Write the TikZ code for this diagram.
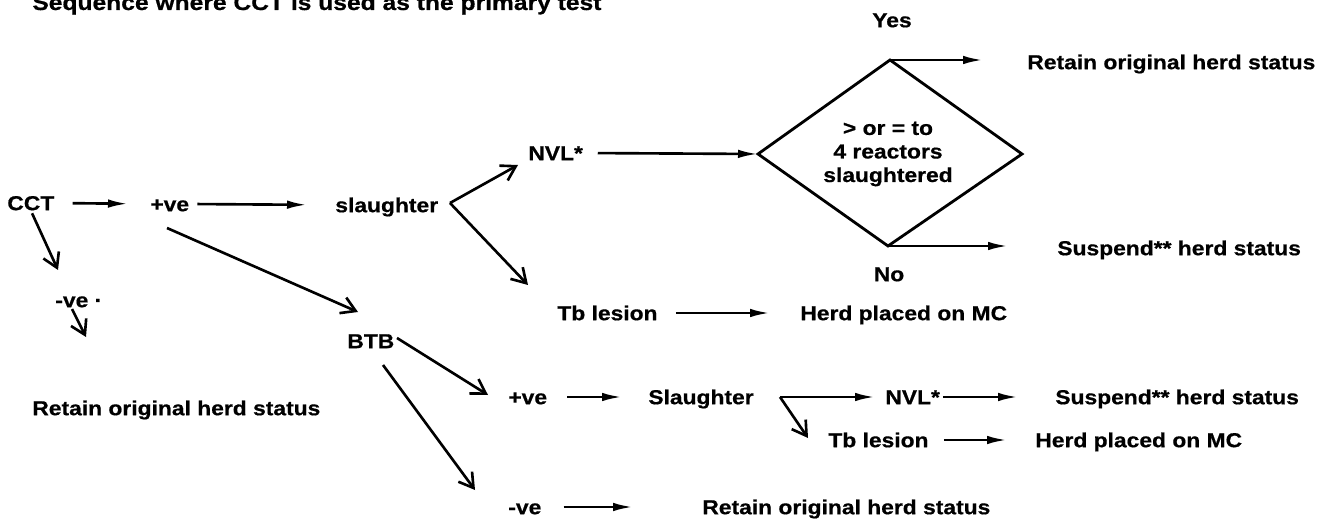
\documentclass[tikz,border=0pt]{standalone}
\usepackage{fontspec}
\newfontfamily\lblfont{Liberation Sans}[FakeStretch=1.13,FakeBold=0.6]
\usetikzlibrary{arrows.meta}
\begin{document}
\begin{tikzpicture}[x=0.02cm,y=-0.02cm,
  lbl/.style={anchor=west,inner sep=0pt,text height=8.2pt,text depth=0pt,
    font=\lblfont\bfseries\fontsize{11.5}{13.8}\selectfont},
  ctr/.style={lbl,anchor=center},
  harr/.style={line width=1.5pt,-{Latex[length=0.4cm,width=0.17cm]}},
  darr/.style={line width=1.5pt,-{Straight Barb[length=0.28cm,width=0.34cm,line width=1.5pt]}},
  dia/.style={line width=1.6pt,line join=miter}]
\useasboundingbox (0,0) rectangle (1329,520);
\clip (0,0) rectangle (1329,520);

% title
\node[anchor=base west,inner sep=0pt,font=\lblfont\bfseries\fontsize{12.4}{14}\selectfont] (title) at (32,10) {Sequence where CCT is used as the primary test};

% labels
\node[lbl] (cct) at (7,203) {CCT};
\node[lbl] (pve1) at (150,204) {+ve};
\node[lbl] (sl1) at (335,205) {slaughter};
\node[lbl] (nvl1) at (528,153) {NVL*};
\node[lbl] (tb1) at (557,313) {Tb lesion};
\node[lbl] (herd1) at (800,313) {Herd placed on MC};
\node[lbl] (nve1) at (55,300) {-ve ·};
\node[lbl] (retL) at (32,408) {Retain original herd status};
\node[lbl] (btb) at (347,341) {BTB};
\node[lbl] (pve2) at (508,397) {+ve};
\node[lbl] (sl2) at (648,397) {Slaughter};
\node[lbl] (nvl2) at (885,397) {NVL*};
\node[lbl] (susp2) at (1055,397) {Suspend** herd status};
\node[lbl] (tb2) at (828,440) {Tb lesion};
\node[lbl] (herd2) at (1035,440) {Herd placed on MC};
\node[lbl] (nve2) at (508,507) {-ve};
\node[lbl] (retB) at (702,507) {Retain original herd status};
\node[ctr] (yes) at (892,20) {Yes};
\node[ctr] (no) at (889,274) {No};
\node[lbl] (retT) at (1027,62) {Retain original herd status};
\node[lbl] (suspT) at (1057,248) {Suspend** herd status};

% diamond
\coordinate (dt) at (890,60);
\coordinate (dl) at (758,154);
\coordinate (dr) at (1022,154);
\coordinate (db) at (888,246);
\draw[dia] (dt) -- (dr) -- (db) -- (dl) -- cycle;
\node[inner sep=0pt,align=center,font=\lblfont\bfseries\fontsize{11.5}{13.4}\selectfont] (dtext) at (888,154) {> or = to\\4 reactors\\slaughtered};

% free-end coordinates
\coordinate (yesE) at (983,60);
\coordinate (noE) at (1008,246);
\coordinate (a1e) at (58,270);
\coordinate (a2s) at (72,309);
\coordinate (a2e) at (86,337);
\coordinate (a3s) at (167,228);
\coordinate (a3e) at (358,312);
\coordinate (ap1) at (450,203);
\coordinate (a4e) at (518,165);
\coordinate (a5e) at (528,285);
\coordinate (a6s) at (397,338);
\coordinate (a6e) at (488,395);
\coordinate (a7s) at (383,365);
\coordinate (a7e) at (475,490);
\coordinate (br2) at (780,397);
\coordinate (a8e) at (808,438);

% horizontal arrows
\draw[harr,shorten <=0.36cm,shorten >=0.44cm] (cct.east) -- (pve1.west);
\draw[harr,shorten <=0.16cm,shorten >=0.56cm] (pve1.east) -- (sl1.west);
\draw[harr,shorten <=0.29cm] (nvl1.east) -- (dl);
\draw[harr] (dt) -- (yesE);
\draw[harr] (db) -- (noE);
\draw[harr,shorten <=0.36cm,shorten >=0.6cm] (tb1.east) -- (herd1.west);
\draw[harr,shorten <=0.4cm,shorten >=0.52cm] (pve2.east) -- (sl2.west);
\draw[harr,shorten >=0.2cm] (br2) -- (nvl2.west);
\draw[harr,shorten <=0.05cm,shorten >=0.74cm] (nvl2.east) -- (susp2.west);
\draw[harr,shorten <=0.3cm,shorten >=0.56cm] (tb2.east) -- (herd2.west);
\draw[harr,shorten <=0.44cm,shorten >=1.38cm] (nve2.east) -- (retB.west);

% diagonal arrows
\draw[darr,shorten <=0.06cm] (cct.south) -- (a1e);
\draw[darr] (a2s) -- (a2e);
\draw[darr] (a3s) -- (a3e);
\draw[darr] (ap1) -- (a4e);
\draw[darr] (ap1) -- (a5e);
\draw[darr] (a6s) -- (a6e);
\draw[darr] (a7s) -- (a7e);
\draw[darr] (br2) -- (a8e);
\end{tikzpicture}
\end{document}
